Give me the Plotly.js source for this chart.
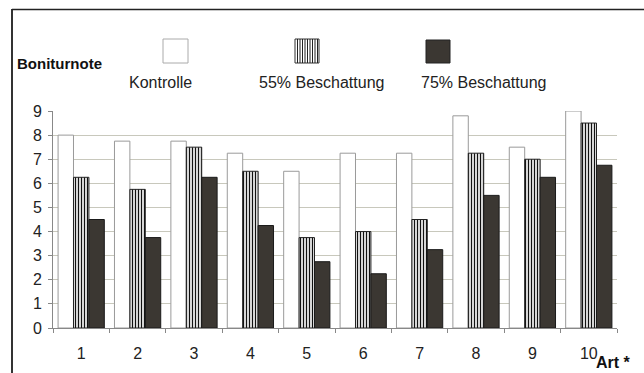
<!DOCTYPE html>
<html><head><meta charset="utf-8">
<script src="https://cdn.plot.ly/plotly-3.0.1.min.js"></script>
<style>html,body{margin:0;padding:0;background:#fff;}#chart{width:644px;height:373px;}</style>
</head><body><div id="chart"></div>
<script>
const categories = ['1','2','3','4','5','6','7','8','9','10'];
const seriesNames = ['Kontrolle','55% Beschattung','75% Beschattung'];
const kontrolle = [8, 7.75, 7.75, 7.25, 6.5, 7.25, 7.25, 8.8, 7.5, 9];
const beschattung55 = [6.25, 5.75, 7.5, 6.5, 3.75, 4, 4.5, 7.25, 7, 8.5];
const beschattung75 = [4.5, 3.75, 6.25, 4.25, 2.75, 2.25, 3.25, 5.5, 6.25, 6.75];
const yTicks = [0,1,2,3,4,5,6,7,8,9];
const yAxisTitle = 'Boniturnote';
const xAxisTitle = 'Art *';

const W = 644, H = 373;
const L = 53, R = 27, T = 111, B = 45;
const pw = W - L - R, ph = H - T - B;
const px = X => (X - L) / pw;
const py = Y => (H - B - Y) / ph;
const FONT = 'Liberation Sans, Arial, sans-serif';

const traces = [
  {type:'bar', name:seriesNames[0], x:categories, y:kontrolle,
   marker:{color:'#ffffff', line:{color:'#9a9a9a', width:1}}},
  {type:'bar', name:seriesNames[1], x:categories, y:beschattung55,
   marker:{color:'#ffffff', line:{color:'#222', width:1},
           pattern:{shape:'|', fgcolor:'#111', bgcolor:'#ffffff', size:3, solidity:0.45}}},
  {type:'bar', name:seriesNames[2], x:categories, y:beschattung75,
   marker:{color:'#3b3732', line:{color:'#1a1a1a', width:1}}}
];

const shapes = [
  {type:'line', xref:'paper', yref:'paper', x0:px(12), x1:px(12), y0:py(9), y1:py(380), line:{color:'#333', width:2}},
  {type:'line', xref:'paper', yref:'paper', x0:px(12), x1:px(644), y0:py(9.5), y1:py(9.5), line:{color:'#222', width:1.5}},
  {type:'rect', xref:'paper', yref:'paper', x0:px(163), x1:px(188), y0:py(63), y1:py(39), fillcolor:'#fff', line:{color:'#aaa', width:1}},
  {type:'rect', xref:'paper', yref:'paper', x0:px(295), x1:px(319), y0:py(63), y1:py(39), fillcolor:'#fff', line:{color:'#333', width:1}},
  {type:'rect', xref:'paper', yref:'paper', x0:px(426), x1:px(450), y0:py(63), y1:py(40), fillcolor:'#3b3732', line:{color:'#222', width:1}}
];
for (let xs = 297.5; xs < 319; xs += 2.5) {
  shapes.push({type:'line', xref:'paper', yref:'paper', x0:px(xs), x1:px(xs), y0:py(63), y1:py(39), line:{color:'#222', width:1}});
}

const annotations = [
  {text:'<b>'+yAxisTitle+'</b>', xref:'paper', yref:'paper', x:px(15), y:py(63), xanchor:'left', yanchor:'middle', showarrow:false, font:{family:FONT, size:15, color:'#111'}},
  {text:seriesNames[0], xref:'paper', yref:'paper', x:px(127), y:py(82), xanchor:'left', yanchor:'middle', showarrow:false, font:{family:FONT, size:16, color:'#222'}},
  {text:seriesNames[1], xref:'paper', yref:'paper', x:px(257), y:py(82), xanchor:'left', yanchor:'middle', showarrow:false, font:{family:FONT, size:16, color:'#222'}},
  {text:seriesNames[2], xref:'paper', yref:'paper', x:px(419), y:py(82), xanchor:'left', yanchor:'middle', showarrow:false, font:{family:FONT, size:16, color:'#222'}},
  {text:'<b>'+xAxisTitle+'</b>', xref:'paper', yref:'paper', x:px(594), y:py(362), xanchor:'left', yanchor:'middle', showarrow:false, font:{family:FONT, size:16, color:'#111'}}
];

const layout = {
  width:W, height:H,
  margin:{l:L, r:R, t:T, b:B, pad:0},
  paper_bgcolor:'#fff', plot_bgcolor:'#fff',
  barmode:'group', bargap:0.18, bargroupgap:0,
  showlegend:false,
  font:{family:FONT, size:16, color:'#222'},
  xaxis:{type:'category', tickson:'boundaries', ticks:'outside', ticklen:4, tickcolor:'#888',
         showline:true, linecolor:'#888', linewidth:1, showgrid:false, zeroline:false,
         ticklabelstandoff:11, tickfont:{family:FONT, size:16, color:'#222'}, fixedrange:true},
  yaxis:{range:[0,9], tickvals:yTicks, ticks:'outside', ticklen:4, tickcolor:'#888',
         showline:true, linecolor:'#888', linewidth:1, showgrid:true, gridcolor:'#c8c8bc', gridwidth:1,
         zeroline:false, ticklabelstandoff:3, tickfont:{family:FONT, size:16, color:'#222'}, fixedrange:true},
  shapes:shapes, annotations:annotations
};

Plotly.newPlot('chart', traces, layout, {displayModeBar:false, staticPlot:true});
</script></body></html>
